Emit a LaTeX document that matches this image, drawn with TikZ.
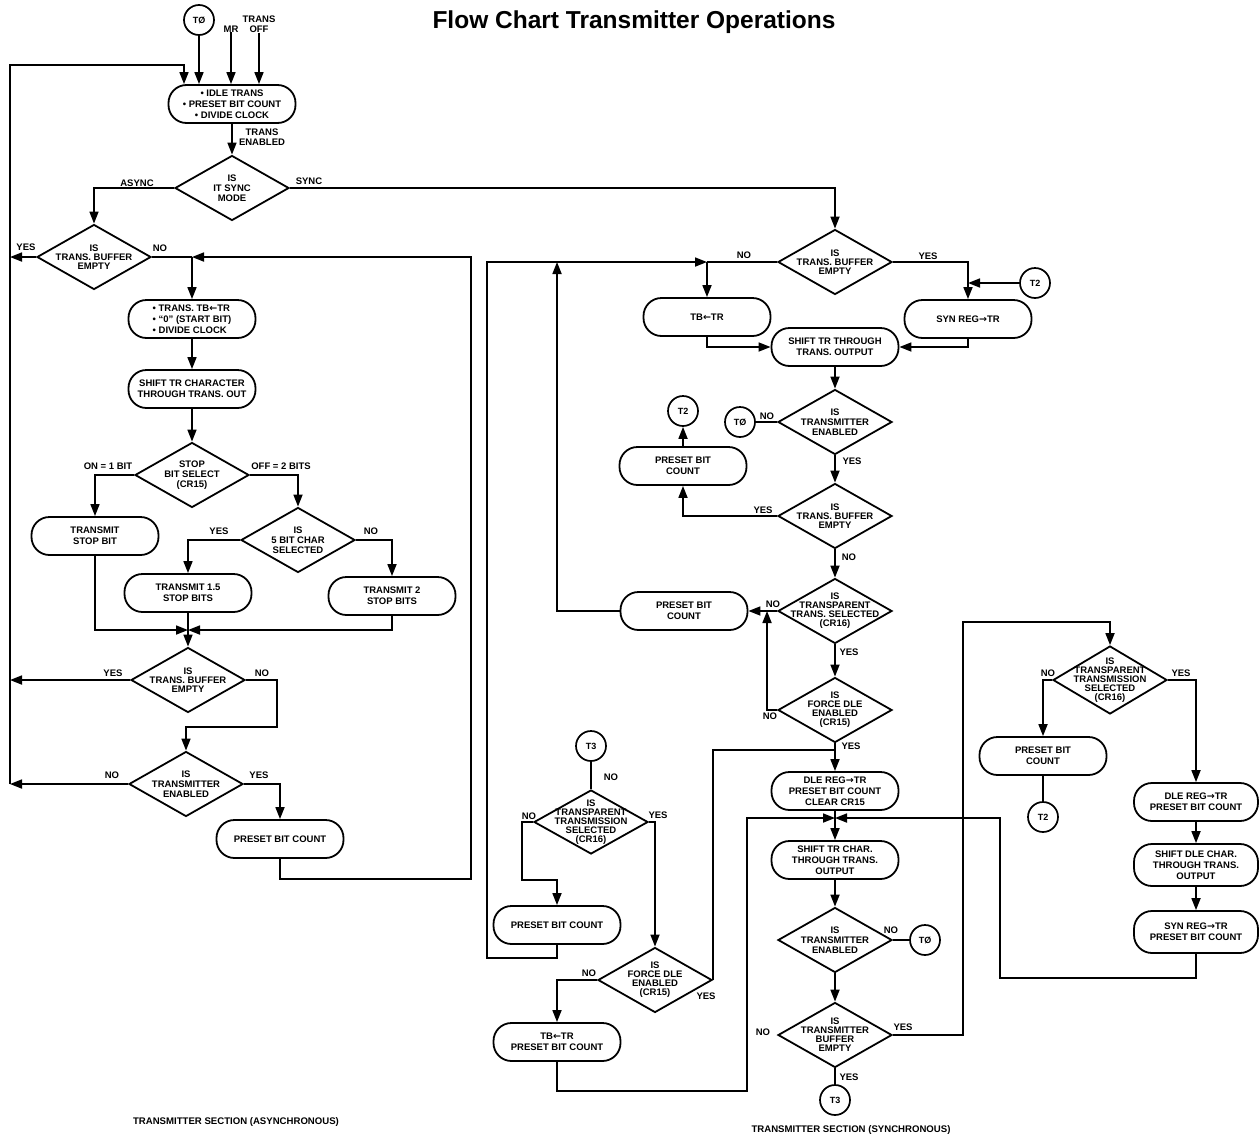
\documentclass[tikz,border=0pt]{standalone}
\usepackage{fontspec}
\setmainfont{Liberation Sans}
\newfontfamily\arrfont{DejaVu Sans}
\usetikzlibrary{arrows.meta,shapes.geometric}
\newcommand{\LA}{{\arrfont\char"2190}}
\newcommand{\RA}{{\arrfont\char"2192}}
\begin{document}
\begin{tikzpicture}[x=1pt,y=-1pt,
  pill/.style={draw, line width=1.8pt, rounded corners=18pt, minimum width=127pt, minimum height=38pt,
     align=center, inner sep=1pt, font=\fontsize{9.5}{11}\selectfont\bfseries},
  dia/.style={draw, diamond, line width=1.8pt, minimum width=114pt, minimum height=65pt, inner sep=0pt},
  dl/.style={align=center, font=\fontsize{9.5}{10}\selectfont\bfseries, inner sep=0pt},
  dls/.style={align=center, font=\fontsize{9.5}{9}\selectfont\bfseries, inner sep=0pt},
  conn/.style={draw, circle, line width=1.7pt, minimum size=30pt, inner sep=0pt, font=\fontsize{9}{10}\selectfont\bfseries},
  txt/.style={font=\fontsize{9.5}{10}\selectfont\bfseries, inner sep=0pt, align=center},
  ln/.style={line width=1.7pt},
  arr/.style={line width=1.7pt, -{Triangle[length=12pt,width=9pt]}}]
\useasboundingbox (0,0) rectangle (1259,1138);
\path[fill=white] (0,0) rectangle (1259,1138);

\node[font=\fontsize{24.5}{28}\selectfont\bfseries] (title) at (634,22) {Flow Chart Transmitter Operations};

%% ---------------- ASYNCHRONOUS ----------------
\node[conn] (t0a) at (199,20) {TØ};
\node[txt] (mr) at (231,29) {MR};
\node[txt] (toff) at (259,24) {TRANS\\OFF};
\node[pill] (idle) at (232,104) {• IDLE TRANS\\• PRESET BIT COUNT\\• DIVIDE CLOCK};
\draw[arr] (t0a.south) -- (t0a.south |- idle.north);
\draw[arr] (mr.south) -- (mr.south |- idle.north);
\draw[arr] (toff.south) -- (toff.south |- idle.north);
\coordinate (Ltop) at (10,65);
\coordinate (Lbot) at (10,784);
\coordinate (idleIn) at (184,0);
\draw[arr] (Lbot) -- (Ltop) -| (idleIn |- idle.north);

\node[txt] (tren) at (262,137) {TRANS\\ENABLED};
\node[dia, label={[dl]center:{IS\\IT SYNC\\MODE}}] (mode) at (232,188) {};
\draw[arr] (idle.south) -- (mode.north);
\node[txt] (lasync) at (137,183) {ASYNC};
\node[txt] (lsync) at (309,181) {SYNC};

\node[dia, label={[dls]center:{IS\\TRANS. BUFFER\\EMPTY}}] (ab1) at (94,257) {};
\draw[arr] (mode.west) -| (ab1.north);
\node[txt] (ly1) at (26,247) {YES};
\draw[arr] (ab1.west) -- (ab1.west -| Ltop);
\node[txt] (ln1) at (160,248) {NO};
\coordinate (Ja) at (192,257);
\draw[ln] (ab1.east) -- (Ja);

\node[pill, align=left] (s1) at (192,319) {• TRANS. TB\LA TR\\• ``0'' (START BIT)\\• DIVIDE CLOCK};
\draw[arr] (Ja) -- (s1.north);
\node[pill] (s2) at (192,389) {SHIFT TR CHARACTER\\THROUGH TRANS. OUT};
\draw[arr] (s1.south) -- (s2.north);
\node[dia, label={[dl]center:{STOP\\BIT SELECT\\(CR15)}}] (stop) at (192,475) {};
\draw[arr] (s2.south) -- (stop.north);
\node[txt] (lon) at (108,466) {ON = 1 BIT};
\node[txt] (loff) at (281,466) {OFF = 2 BITS};
\node[pill] (tsb) at (95,536) {TRANSMIT\\STOP BIT};
\draw[arr] (stop.west) -| (tsb.north);
\node[dia, label={[dl]center:{IS\\5 BIT CHAR\\SELECTED}}] (five) at (298,540) {};
\draw[arr] (stop.east) -| (five.north);
\node[txt] (ly2) at (219,531) {YES};
\node[txt] (ln2) at (371,531) {NO};
\node[pill] (t15) at (188,593) {TRANSMIT 1.5\\STOP BITS};
\node[pill] (tx2) at (392,596) {TRANSMIT 2\\STOP BITS};
\draw[arr] (five.west) -| (t15.north);
\draw[arr] (five.east) -| (tx2.north);
\coordinate (Jm) at (188,630);
\draw[arr] (tsb.south) |- (Jm);
\draw[arr] (tx2.south) |- (Jm);
\node[dia, label={[dls]center:{IS\\TRANS. BUFFER\\EMPTY}}] (ab2) at (188,680) {};
\draw[arr] (t15.south) -- (ab2.north);
\node[txt] (ly3) at (113,673) {YES};
\draw[arr] (ab2.west) -- (ab2.west -| Ltop);
\node[txt] (ln3) at (262,673) {NO};
\coordinate (Nb) at (277,727);
\node[dia, label={[dl]center:{IS\\TRANSMITTER\\ENABLED}}] (te) at (186,784) {};
\draw[arr] (ab2.east) -| (Nb) -| (te.north);
\node[txt] (ln4) at (112,775) {NO};
\draw[arr] (te.west) -- (te.west -| Ltop);
\node[txt] (ly4) at (259,775) {YES};
\node[pill] (pbca) at (280,839) {PRESET BIT COUNT};
\draw[arr] (te.east) -| (pbca.north);
\coordinate (Ra) at (471,879);
\draw[arr] (pbca.south) |- (Ra) |- (Ja);

\node[font=\fontsize{9.6}{10}\selectfont\bfseries] (capa) at (236,1122) {TRANSMITTER SECTION (ASYNCHRONOUS)};

%% ---------------- SYNCHRONOUS ----------------
\node[dia, label={[dls]center:{IS\\TRANS. BUFFER\\EMPTY}}] (sb1) at (835,262) {};
\draw[arr] (mode.east) -| (sb1.north);
\node[txt] (ln5) at (744,255) {NO};
\node[txt] (ly5) at (928,256) {YES};
\coordinate (J1) at (707,262);
\draw[ln] (sb1.west) -- (J1);
\node[pill] (tbtr) at (707,317) {TB\LA TR};
\draw[arr] (J1) -- (tbtr.north);
\node[pill] (shtr) at (835,347) {SHIFT TR THROUGH\\TRANS. OUTPUT};
\draw[arr] (tbtr.south) |- (shtr.west);
\node[pill] (syn) at (968,319) {SYN REG\RA TR};
\draw[arr] (sb1.east) -| (syn.north);
\node[conn] (t2a) at (1035,283) {T2};
\draw[arr] (t2a.west) -- (t2a.west -| syn.north);
\draw[arr] (syn.south) |- (shtr.east);

\node[dia, label={[dl]center:{IS\\TRANSMITTER\\ENABLED}}] (te2) at (835,422) {};
\draw[arr] (shtr.south) -- (te2.north);
\node[conn] (t0b) at (740,422) {TØ};
\draw[ln] (te2.west) -- (t0b.east);
\node[txt] (ln6) at (767,416) {NO};
\node[txt] (ly6) at (852,461) {YES};
\node[dia, label={[dls]center:{IS\\TRANS. BUFFER\\EMPTY}}] (sb3) at (835,516) {};
\draw[arr] (te2.south) -- (sb3.north);
\node[conn] (t2b) at (683,411) {T2};
\node[pill] (pbc1) at (683,466) {PRESET BIT\\COUNT};
\draw[arr] (pbc1.north) -- (t2b.south);
\node[txt] (ly7) at (763,510) {YES};
\draw[arr] (sb3.west) -| (pbc1.south);
\node[txt] (ln7) at (849,557) {NO};
\node[dia, label={[dls]center:{IS\\TRANSPARENT\\TRANS. SELECTED\\(CR16)}}] (tt1) at (835,611) {};
\draw[arr] (sb3.south) -- (tt1.north);
\node[pill] (pbc2) at (684,611) {PRESET BIT\\COUNT};
\draw[arr] (tt1.west) -- (pbc2.east);
\node[txt] (ln8) at (773,604) {NO};
\coordinate (Li) at (557,262);
\draw[arr] (pbc2.west) -| (Li);
\node[txt] (ly8) at (849,652) {YES};
\node[dia, label={[dls]center:{IS\\FORCE DLE\\ENABLED\\(CR15)}}] (fd1) at (835,710) {};
\draw[arr] (tt1.south) -- (fd1.north);
\node[txt] (ln9) at (770,716) {NO};
\coordinate (Nf) at (767,710);
\draw[arr] (fd1.west) -- (Nf) -- (Nf |- tt1.west);
\node[txt] (ly9) at (851,746) {YES};
\node[pill] (dle) at (835,791) {DLE REG\RA TR\\PRESET BIT COUNT\\CLEAR CR15};
\draw[arr] (fd1.south) -- (dle.north);
\coordinate (Jy) at (835,750);
\coordinate (J2) at (835,818);
\node[pill] (shch) at (835,860) {SHIFT TR CHAR.\\THROUGH TRANS.\\OUTPUT};
\draw[arr] (dle.south) -- (shch.north);
\node[dia, label={[dl]center:{IS\\TRANSMITTER\\ENABLED}}] (te3) at (835,940) {};
\draw[arr] (shch.south) -- (te3.north);
\node[conn] (t0c) at (925,940) {TØ};
\draw[ln] (te3.east) -- (t0c.west);
\node[txt] (ln10) at (891,930) {NO};
\node[dia, label={[dls]center:{IS\\TRANSMITTER\\BUFFER\\EMPTY}}] (tbe) at (835,1035) {};
\draw[arr] (te3.south) -- (tbe.north);
\node[txt] (ln11) at (763,1032) {NO};
\node[txt] (ly11) at (903,1027) {YES};
\node[conn] (t3b) at (835,1100) {T3};
\draw[ln] (tbe.south) -- (t3b.north);
\node[txt] (ly12) at (849,1077) {YES};
\node[font=\fontsize{9.6}{10}\selectfont\bfseries] (caps) at (851,1130) {TRANSMITTER SECTION (SYNCHRONOUS)};

%% lower left of synchronous
\node[conn] (t3a) at (591,746) {T3};
\node[txt] (ln12) at (611,777) {NO};
\node[dia, minimum height=64pt, label={[dls]center:{IS\\TRANSPARENT\\TRANSMISSION\\SELECTED\\(CR16)}}] (tt3) at (591,822) {};
\draw[ln] (t3a.south) -- (tt3.north);
\node[txt] (ln13) at (529,816) {NO};
\node[txt] (ly13) at (658,815) {YES};
\node[pill] (pbc3) at (557,925) {PRESET BIT COUNT};
\coordinate (Nt) at (522,880);
\draw[arr] (tt3.west) -| (Nt) -| (pbc3.north);
\node[dia, label={[dls]center:{IS\\FORCE DLE\\ENABLED\\(CR15)}}] (fd2) at (655,980) {};
\draw[arr] (tt3.east) -| (fd2.north);
\coordinate (Lo) at (487,958);
\draw[arr] (pbc3.south) |- (Lo) |- (J1);
\node[txt] (ln14) at (589,973) {NO};
\node[txt] (ly14) at (706,996) {YES};
\node[pill] (tbpbc) at (557,1042) {TB\LA TR\\PRESET BIT COUNT};
\draw[arr] (fd2.west) -| (tbpbc.north);
\draw[ln] (fd2.east) |- (Jy);
\coordinate (Bl) at (747,1091);
\draw[arr] (tbpbc.south) |- (Bl) |- (J2);

%% right column
\node[dia, minimum height=68pt, label={[dls]center:{IS\\TRANSPARENT\\TRANSMISSION\\SELECTED\\(CR16)}}] (tt2) at (1110,680) {};
\coordinate (Vr) at (963,622);
\draw[arr] (tbe.east) -| (Vr) -| (tt2.north);
\node[txt] (ln15) at (1048,673) {NO};
\node[txt] (ly15) at (1181,673) {YES};
\node[pill] (pbcR) at (1043,756) {PRESET BIT\\COUNT};
\draw[arr] (tt2.west) -| (pbcR.north);
\node[conn] (t2c) at (1043,817) {T2};
\draw[ln] (pbcR.south) -- (t2c.north);
\node[pill, minimum width=124pt] (dleR) at (1196,802) {DLE REG\RA TR\\PRESET BIT COUNT};
\draw[arr] (tt2.east) -| (dleR.north);
\node[pill, minimum width=124pt, minimum height=42pt] (shdle) at (1196,865) {SHIFT DLE CHAR.\\THROUGH TRANS.\\OUTPUT};
\draw[arr] (dleR.south) -- (shdle.north);
\node[pill, minimum width=124pt, minimum height=42pt] (synR) at (1196,932) {SYN REG\RA TR\\PRESET BIT COUNT};
\draw[arr] (shdle.south) -- (synR.north);
\coordinate (Br) at (1000,978);
\draw[arr] (synR.south) |- (Br) |- (J2);
\end{tikzpicture}
\end{document}
